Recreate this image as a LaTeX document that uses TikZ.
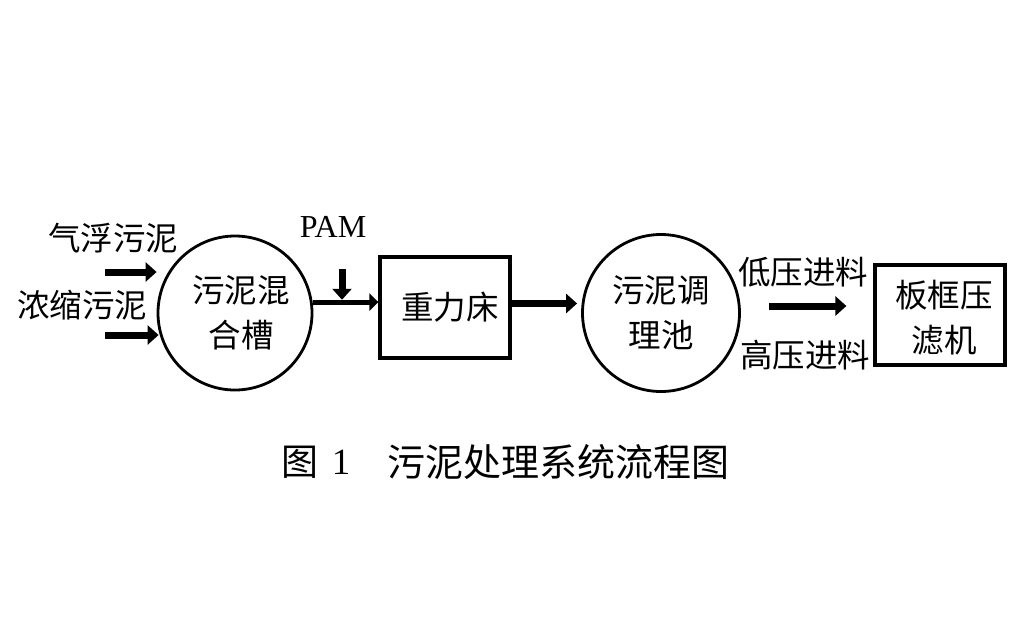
\documentclass[tikz,border=0pt]{standalone}
\usepackage{fontspec}
\newfontfamily\cjk{Noto Sans CJK SC}
\newfontfamily\tms{Liberation Serif}
\usetikzlibrary{arrows.meta,calc}
\begin{document}
\begin{tikzpicture}[x=1pt,y=-1pt,
  lbl/.style={font=\cjk\fontsize{32.5}{45}\selectfont, inner sep=0pt, align=center},
  tank/.style={draw, circle, line width=2.8pt, minimum size=154pt, inner sep=0pt},
  unit/.style={draw, rectangle, line width=3.2pt, inner sep=0pt},
  arr/.style={line width=7pt, -{Triangle[length=11pt,width=19pt]}},
  arrthin/.style={line width=5pt, -{Triangle[length=9pt,width=17pt]}}]
\useasboundingbox (0,0) rectangle (1024,625);
% nodes
\node[tank] (c1) at (235,313) {};
\node[lbl] (c1t) at (241,313) {污泥混\\合槽};
\node[unit, minimum width=130pt, minimum height=101pt] (b1) at (445,307.5) {};
\node[lbl] (b1t) at (450,307) {重力床};
\node[tank, minimum size=157pt] (c2) at (661,313) {};
\node[lbl] (c2t) at (661,313) {污泥调\\理池};
\node[unit, minimum width=130pt, minimum height=100pt] (b2) at (940,315) {};
\node[lbl] (b2t) at (944,318) {板框压\\滤机};
\node[lbl] (in1t) at (113,238) {气浮污泥};
\node[lbl] (in2t) at (82,305) {浓缩污泥};
\node[lbl] (lowt) at (803,272) {低压进料};
\node[lbl] (hight) at (805,355) {高压进料};
\node[font=\tms\fontsize{32}{36}\selectfont, inner sep=0pt] (pam) at (333,227) {PAM};
% caption
\node[font=\cjk\fontsize{37}{40}\selectfont, inner sep=0pt] (fig) at (300,462) {图};
\node[font=\tms\fontsize{37}{40}\selectfont, inner sep=0pt] (fign) at (341,462) {1};
\node[font=\cjk\fontsize{38}{40}\selectfont, inner sep=0pt, anchor=west] (cap) at (387,462) {污泥处理系统流程图};
% inputs
\coordinate (in1) at (105,272);
\coordinate (in2) at (105,335);
\draw[arr] (in1) -- (in1 -| c1.west);
\draw[arr] (in2) -- ([xshift=2pt]in2 -| c1.west);
% connectors
\draw[arrthin] (c1.8) -- (c1.8 -| b1.west);
\draw[arr] ([xshift=9pt,yshift=-31pt]pam.south) -- ([xshift=9pt,yshift=-62pt]pam.south);
\draw[arr, shorten >=4pt] ([yshift=4pt]b1.east) -- ([yshift=4pt]b1.east -| c2.west);
\coordinate (a3s) at ([shift={(28,-7)}]c2.east);
\draw[arr, shorten >=27pt] (a3s) -- (a3s -| b2.west);
\end{tikzpicture}
\end{document}
